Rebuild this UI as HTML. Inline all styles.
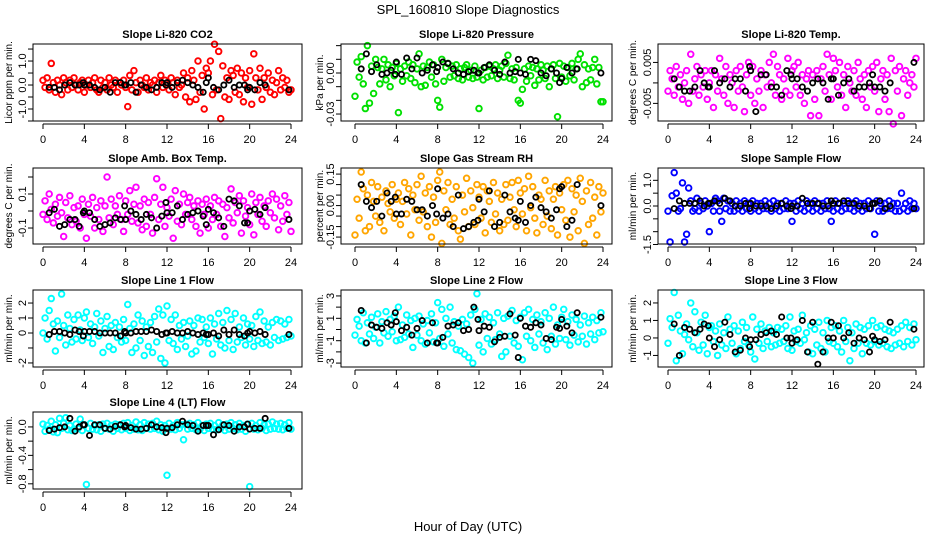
<!DOCTYPE html>
<html><head><meta charset="utf-8"><style>
html,body{margin:0;padding:0;background:#fff;}
svg text{font-family:"Liberation Sans",Arial,sans-serif;}
</style></head><body>
<svg id="chart" width="936" height="540" viewBox="0 0 936 540" xmlns="http://www.w3.org/2000/svg">
<rect width="936" height="540" fill="#fff"/>
<text x="468" y="14" font-size="13" text-anchor="middle">SPL_160810  Slope Diagnostics</text>
<text x="468" y="531" font-size="13" text-anchor="middle">Hour of Day (UTC)</text>
</svg>
<script>
const hoursColor=[0,0.2,0.4,0.6,0.8,1,1.2,1.4,1.6,1.8,2,2.2,2.4,2.6,2.8,3,3.2,3.4,3.6,3.8,4,4.2,4.4,4.6,4.8,5,5.2,5.4,5.6,5.8,6,6.2,6.4,6.6,6.8,7,7.2,7.4,7.6,7.8,8,8.2,8.4,8.6,8.8,9,9.2,9.4,9.6,9.8,10,10.2,10.4,10.6,10.8,11,11.2,11.4,11.6,11.8,12,12.2,12.4,12.6,12.8,13,13.2,13.4,13.6,13.8,14,14.2,14.4,14.6,14.8,15,15.2,15.4,15.6,15.8,16,16.2,16.4,16.6,16.8,17,17.2,17.4,17.6,17.8,18,18.2,18.4,18.6,18.8,19,19.2,19.4,19.6,19.8,20,20.2,20.4,20.6,20.8,21,21.2,21.4,21.6,21.8,22,22.2,22.4,22.6,22.8,23,23.2,23.4,23.6,23.8,24];
const hoursBlack=[0.6,1.1,1.6,2.1,2.6,3.1,3.5,3.9,4.0,4.5,5.0,5.5,6.0,6.5,7.0,7.5,7.9,8.0,8.5,9.0,9.5,10.0,10.5,11.0,11.5,11.9,12.0,12.5,13.0,13.5,14.0,14.5,15.0,15.5,15.8,16.0,16.5,17.0,17.5,18.0,18.5,19.0,19.5,19.8,20.0,20.5,21.0,21.5,23.8];
const titles=["Slope Li-820 CO2","Slope Li-820 Pressure","Slope Li-820 Temp.","Slope Amb. Box Temp.","Slope Gas Stream RH","Slope Sample Flow","Slope Line 1 Flow","Slope Line 2 Flow","Slope Line 3 Flow","Slope Line 4 (LT) Flow"];
const yTitles=["Licor ppm per min.","kPa per min.","degrees C per min.","degrees C per min.","percent per min.","ml/min per min.","ml/min per min.","ml/min per min.","ml/min per min.","ml/min per min."];
const colors=["#ff0000","#00e000","#ff00ff","#ff00ff","#ffa500","#0000ff","#00ffff","#00ffff","#00ffff","#00ffff"];
const scales=[0.1,0.001,0.001,0.01,0.01,0.1,0.1,0.1,0.1,0.01];
const yLims=[[-1.5,1.71],[-0.0351,0.0212],[-0.0093,0.0095],[-0.194,0.253],[-0.183,0.179],[-1.48,1.48],[-2.27,2.87],[-3.35,3.53],[-1.66,2.74],[-0.873,0.21]];
const yTicks=[[-1.5,-1,-0.5,0,0.5,1,1.5],[-0.03,-0.02,-0.01,0,0.01,0.02],[-0.005,0,0.005],[-0.1,0,0.1,0.2],[-0.15,-0.1,-0.05,0,0.05,0.1,0.15],[-1.5,-1,-0.5,0,0.5,1],[-2,-1,0,1,2],[-3,-2,-1,0,1,2,3],[-1,0,1,2],[-0.8,-0.6,-0.4,-0.2,0]];
const yLabels=[[[-1,"-1.0"],[0,"0.0"],[1,"1.0"]],[[-0.03,"-0.03"],[0,"0.00"]],[[-0.005,"-0.005"],[0.005,"0.005"]],[[-0.1,"-0.1"],[0.1,"0.1"]],[[-0.15,"-0.15"],[0,"0.00"],[0.15,"0.15"]],[[-1.5,"-1.5"],[0,"0.0"],[1,"1.0"]],[[-2,"-2"],[0,"0"],[1,"1"],[2,"2"]],[[-3,"-3"],[-1,"-1"],[1,"1"],[3,"3"]],[[-1,"-1"],[0,"0"],[1,"1"],[2,"2"]],[[-0.8,"-0.8"],[-0.4,"-0.4"],[0,"0.0"]]];
const xTicks=[0,4,8,12,16,20,24];
const colorVals=[
[2,-1,3,-2,9,1,-3,2,0,-4,3,1,-2,2,-1,3,0,-2,1,2,-3,0,2,-1,1,3,-2,-3,2,-1,1,-2,3,0,-1,2,-3,1,0,2,-1,-9,4,-2,6,1,-3,2,0,-1,3,-2,1,0,2,-3,1,4,-1,2,0,-2,3,1,-4,2,-1,0,5,-5,3,-7,6,2,-6,10,-3,4,-10,7,5,10,-4,17,-2,14,-14,8,-5,3,-6,6,4,-3,7,-4,5,-7,3,-1,6,-8,13,3,-2,7,-6,3,-1,5,-3,2,-4,1,6,-2,3,-1,2,-3,-2],
[-17,8,-3,12,-8,-26,20,-22,5,-15,10,4,-8,3,10,-5,6,-10,4,-2,7,-29,3,-6,5,-2,8,-4,6,-7,3,14,-10,5,-9,4,8,-3,6,-8,-20,-25,10,-6,4,7,-3,5,-2,6,-4,3,-5,4,6,-3,2,-4,5,-3,-26,2,-5,4,-3,5,-2,3,6,-4,2,5,-3,7,13,-4,3,-5,4,-20,-22,-12,3,-6,5,-2,4,-9,3,-5,6,2,-4,5,-10,3,6,-4,-32,7,-3,5,-6,4,-2,7,-5,3,10,14,-10,6,-7,3,-5,4,10,-8,4,-21,-21],
[-2,3,1,-3,4,-1,2,-4,0,3,-5,7,-2,1,4,-3,2,-1,3,-4,0,3,-6,2,-2,6,1,-3,4,-5,2,0,-6,3,-2,4,-1,-7,2,5,-3,4,-5,1,-2,3,-6,2,-1,5,0,7,-3,4,2,-4,1,-2,6,-3,3,4,-1,5,-3,2,-5,1,3,-8,2,-4,3,-8,1,4,-2,7,2,-4,6,3,-1,5,-3,2,-6,4,0,-2,3,-3,5,1,-4,2,-6,3,-1,4,-2,5,-7,1,3,-4,2,-7,6,-10,3,-2,4,-8,1,3,-3,0,2,-1,6,-1],
[-2,6,-5,10,1,-7,4,-3,8,-1,-15,5,-4,9,-8,2,-6,3,-10,7,-2,-16,4,-3,8,-10,2,-5,6,-12,3,20,-4,7,-8,3,-2,9,-5,-12,6,-2,12,-6,4,14,-7,3,-11,7,-9,5,-2,-13,8,19,-5,4,14,-9,2,-3,7,-16,12,-6,4,-8,10,-2,5,8,-5,3,-9,6,-13,4,-2,7,-10,3,-5,8,-2,6,-9,4,-15,2,-4,13,-7,5,-1,9,-13,6,-3,2,-8,10,-14,5,-2,8,-6,3,-9,6,-1,10,-4,7,-11,3,-6,9,-2,5,-12,2],
[-14,3,-6,16,8,-12,5,-10,11,2,-5,9,-8,4,-12,7,1,-3,10,-6,3,6,-9,2,11,-4,8,-14,5,-2,10,-7,14,-3,6,-10,9,-15,4,-8,12,16,-18,7,-2,11,-9,3,-6,9,-12,-16,5,-3,13,-10,7,-1,-9,10,4,-6,9,-13,7,2,-8,11,-4,6,-12,3,-9,10,-7,4,11,-2,-10,12,6,-4,8,-12,14,-1,9,-6,-13,5,3,-9,12,-5,7,-11,3,9,-14,6,-2,10,-7,12,-15,8,-3,5,-12,13,2,-18,7,-9,11,-6,4,-14,9,-3,6,1],
[-2,-14,4,13,5,-2,-1,9,-14,-11,7,2,-2,-1,3,-2,1,-1,2,0,-10,1,-2,3,2,-2,-6,3,-1,2,-2,1,-2,2,-1,1,-2,2,-1,1,-2,2,-1,1,-2,1,-1,2,-1,1,-2,2,-1,1,-2,1,-1,2,-1,1,-6,1,-2,2,-1,1,-2,2,-1,1,-2,2,-1,1,-2,1,-1,2,-1,-6,-2,2,-1,1,-2,1,-1,2,-1,1,-2,2,-1,1,-2,1,-1,2,-1,1,-11,2,-2,1,-2,1,-1,2,-1,1,-2,1,-2,5,-1,1,-2,2,-1,1,-1,0],
[0,10,-4,15,23,6,-12,8,-3,26,5,-8,12,3,-6,9,-4,12,2,-5,10,14,-3,6,-7,4,13,-2,8,-13,3,11,-9,5,-11,7,-3,4,-6,9,-5,19,3,-13,6,-10,12,-5,8,-15,4,-9,7,-13,11,-6,16,-17,12,-20,18,-5,9,-7,12,-11,5,-4,7,-9,-2,8,-14,5,-12,10,-6,9,-3,4,-7,10,-14,6,-4,13,-8,7,-10,15,-5,9,-11,13,-6,4,-3,10,-8,6,-4,5,-9,11,-5,14,-7,8,-6,4,-8,7,-3,9,-5,8,-4,6,-3,9,-2,3],
[-5,9,3,-10,15,-12,6,-4,11,-8,2,14,-12,7,-3,16,-6,9,-2,12,-10,20,-9,4,-7,13,-4,8,-16,10,-5,12,-10,5,-13,8,-3,14,-11,6,24,-8,18,-15,10,-4,20,-12,7,-18,3,-19,9,-22,5,-25,13,-30,18,32,-14,9,-20,14,-8,11,-13,6,-9,15,-4,-24,10,-20,12,-6,17,-12,8,-15,11,-27,15,-6,18,-10,9,-16,13,-4,7,-12,15,-18,10,-6,20,-13,4,-8,11,18,-9,7,-14,13,-5,9,-11,4,-6,12,-13,6,-4,11,-9,8,-3,15,-2,7],
[-3,11,6,26,-13,13,4,-9,2,8,-1,20,-5,15,3,-7,9,-4,13,-9,6,7,-2,4,-10,8,-4,3,-6,12,5,-3,7,-9,4,-6,9,-2,6,-4,-8,12,-12,5,-3,8,-6,4,-2,6,-5,3,-4,6,-3,5,-2,7,-6,12,-7,4,-2,5,-3,13,-1,3,-8,7,-9,5,-4,9,-6,3,-8,10,-2,6,-3,7,-5,4,-8,10,-2,6,-13,3,-6,8,-3,6,-9,5,-3,7,-4,10,-2,6,-4,7,-3,5,-5,4,-6,3,-4,5,-3,7,-5,9,-2,6,-4,8,-1,3],
[4,-6,2,-3,8,-7,3,-8,12,-2,5,13,-4,2,-5,-3,4,-2,11,-5,3,-81,-2,5,-3,2,-4,3,-6,4,-2,5,-3,2,-6,4,-2,3,-4,5,-2,6,-5,2,-3,7,-4,3,-5,6,-2,4,-3,5,-2,8,-4,3,-6,2,-68,5,-3,2,-4,6,-2,3,-18,4,-3,5,-2,3,-4,6,-3,2,-5,4,-2,5,-3,2,-4,6,-2,3,-5,4,-3,6,-2,3,-4,5,-3,2,-6,4,-84,5,-3,2,-4,6,-2,3,-5,4,-3,7,-2,4,-3,5,-4,3,-2,6,-3,2]
];
const blackVals=[
[-1,-1,-2,0,1,0,0,1,0,0,-1,-2,-1,-3,1,1,0,0,1,-3,0,-1,-2,-1,1,0,1,-1,1,2,1,0,-1,-3,1,3,-1,-2,0,2,-1,0,0,-2,-1,-2,1,0,-2],
[3,14,1,6,-1,0,2,-1,8,-1,11,3,11,0,2,6,1,4,8,7,3,0,-1,1,2,0,0,4,6,2,-1,8,0,1,10,0,-1,10,9,0,-2,3,0,-7,-4,4,0,3,0],
[1,-1,-2,-2,-1,3,0,-1,-1,3,0,1,-1,1,1,-2,4,3,-7,2,2,-1,-1,-3,3,2,1,1,-1,-2,0,1,0,-4,1,1,-3,0,1,-2,-1,-1,0,2,-1,-1,-2,0,5],
[-1,1,-9,-8,-5,-5,-9,-1,0,-1,-5,-9,-8,-7,-4,-5,3,-5,0,-2,-5,-2,-4,-10,-3,5,-1,-1,3,-5,-2,-1,0,-3,-8,1,-1,-4,-9,7,6,3,-7,-7,0,1,-2,2,-5],
[10,2,-1,2,-5,6,2,4,-4,-4,3,2,-2,-2,-5,0,-4,8,-6,-4,-10,5,-11,-10,-8,-7,3,-3,7,-10,-8,5,-3,-6,-7,2,-8,0,4,-1,-3,-6,-2,8,9,-10,-7,10,0],
[-1,2,1,1,1,2,0,1,1,2,1,3,2,0,0,1,-1,1,0,0,0,-1,0,1,0,-1,0,0,3,1,1,1,0,0,2,1,1,2,1,1,0,0,-1,1,1,2,-1,0,-1],
[-1,1,1,0,-1,2,1,-2,1,1,1,0,0,0,0,-2,1,0,0,1,1,1,2,1,-1,0,0,1,0,0,1,0,-1,0,-1,-1,0,-2,2,-1,2,-1,-2,0,1,0,1,-1,-1],
[17,-12,4,2,1,6,4,15,7,-1,2,-5,1,8,-12,6,-12,-12,-7,3,4,6,-1,0,20,9,-1,3,2,-11,-7,-6,14,-5,-25,10,3,2,6,4,-8,-9,2,1,9,3,-3,15,11],
[8,-10,6,5,3,5,8,7,0,-5,-1,9,2,-8,-7,0,-5,-1,-1,2,3,4,2,12,0,0,-3,-1,10,-8,9,-15,-8,0,9,0,7,0,3,-3,0,-1,-8,1,-1,-2,-1,9,5],
[-5,-3,-1,0,12,-6,0,3,3,-12,3,3,-2,-3,1,3,0,2,-1,-3,-3,-2,3,0,-1,-8,-2,-1,3,8,3,2,-6,2,2,2,-11,-4,3,2,-6,0,0,4,-3,-2,-2,12,-2]
];
const NS="http://www.w3.org/2000/svg";
const svg=document.getElementById('chart');
const cols=[{l:33,r:302,x0:43,x24:291,yt:12},{l:341,r:612,x0:355,x24:603,yt:323},{l:658,r:924,x0:668,x24:916,yt:636}];
const rows=[{t:44,b:121},{t:168,b:244},{t:290,b:367},{t:412,b:489}];
function mk(tag,attrs,parent){const e=document.createElementNS(NS,tag);for(const k in attrs)e.setAttribute(k,attrs[k]);(parent||svg).appendChild(e);return e;}
for(let p=0;p<10;p++){
  const c=cols[p%3],r=rows[Math.floor(p/3)];
  const g=mk('g',{});
  
  
  const xS=h=>c.x0+(c.x24-c.x0)*h/24;
  const [lo,hi]=yLims[p];
  const yS=v=>r.b-(v-lo)/(hi-lo)*(r.b-r.t);
  const t=mk('text',{x:(c.l+c.r)/2,y:r.t-6,'font-size':11,'font-weight':'bold','text-anchor':'middle'},g);
  t.textContent=titles[p];
  
  
  const ym=(r.t+r.b)/2;
  const yt=mk('text',{x:c.yt,y:ym,'font-size':10,'text-anchor':'middle',transform:`rotate(-90 ${c.yt} ${ym})`},g);
  yt.textContent=yTitles[p];
  
  
  const cv=colorVals[p],n=Math.min(cv.length,hoursColor.length);
  for(let i=0;i<n;i++){
    const m=mk('circle',{cx:xS(hoursColor[i]),cy:yS(cv[i]*scales[p]),r:2.8,fill:'none',stroke:colors[p],'stroke-width':1.9},g);
    
    
  }
  const bv=blackVals[p],nb=Math.min(bv.length,hoursBlack.length);
  for(let i=0;i<nb;i++){
    const m=mk('circle',{cx:xS(hoursBlack[i]),cy:yS(bv[i]*scales[p]),r:2.6,fill:'none',stroke:'#000','stroke-width':1.8},g);
    
    
  }
  const box=mk('rect',{x:c.l,y:r.t,width:c.r-c.l,height:r.b-r.t,fill:'none',stroke:'#000','stroke-width':1},g);
  
  
  mk('line',{x1:c.x0,x2:c.x24,y1:r.b+3,y2:r.b+3,stroke:'#000'},g);
  xTicks.forEach(h=>{
    mk('line',{x1:xS(h),x2:xS(h),y1:r.b+3,y2:r.b+8,stroke:'#000'},g);
    const tl=mk('text',{x:xS(h),y:r.b+22,'font-size':11,'text-anchor':'middle'},g);
    tl.textContent=h;
    
    
  });
  const tk=yTicks[p];
  tk.forEach(v=>mk('line',{x1:c.l-5,x2:c.l,y1:yS(v),y2:yS(v),stroke:'#000'},g));
  yLabels[p].forEach(([v,s])=>{
    const x=c.l-7,y=yS(v);
    const tl=mk('text',{x:x,y:y,'font-size':11,'text-anchor':'middle',transform:`rotate(-90 ${x} ${y})`},g);
    tl.textContent=s;
    
    
  });
}
</script>
</body></html>
